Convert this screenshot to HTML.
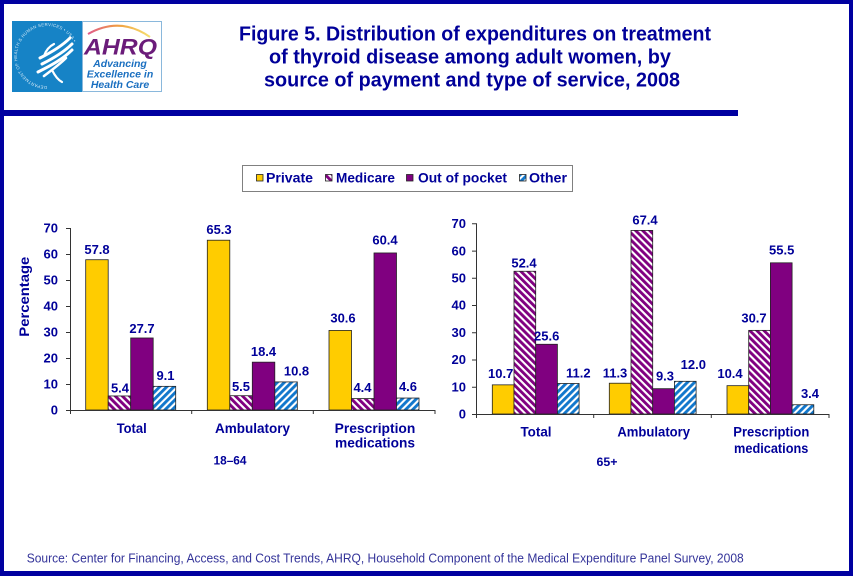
<!DOCTYPE html>
<html>
<head>
<meta charset="utf-8">
<style>
html,body{margin:0;padding:0;background:#fff;}
svg{display:block;}
text{font-family:"Liberation Sans",Arial,sans-serif;}
</style>
</head>
<body>
<svg width="853" height="576" viewBox="0 0 853 576" xmlns="http://www.w3.org/2000/svg">
<defs>
  <pattern id="pMed" patternUnits="userSpaceOnUse" width="5" height="5" patternTransform="rotate(-45)">
    <rect x="0" y="0" width="5" height="5" fill="#ffffff"/>
    <rect x="0" y="0" width="2.9" height="5" fill="#800080"/>
  </pattern>
  <pattern id="pOth" patternUnits="userSpaceOnUse" width="5" height="5" patternTransform="rotate(45)">
    <rect x="0" y="0" width="5" height="5" fill="#ffffff"/>
    <rect x="0" y="0" width="2.9" height="5" fill="#1177cc"/>
  </pattern>
  <linearGradient id="arc" x1="0" y1="0" x2="1" y2="0">
    <stop offset="0" stop-color="#e05a8a"/>
    <stop offset="0.5" stop-color="#f0a040"/>
    <stop offset="1" stop-color="#f6e070"/>
  </linearGradient>
  <path id="circ" d="M47,86 a30,30 0 1,1 0.1,0"/>
</defs>

<!-- background & frame -->
<rect x="0" y="0" width="853" height="576" fill="#ffffff"/>
<rect x="0" y="0" width="853" height="4" fill="#0000a0"/>
<rect x="0" y="0" width="4" height="576" fill="#0000a0"/>
<rect x="849" y="0" width="4" height="576" fill="#0000a0"/>
<rect x="0" y="571" width="853" height="5" fill="#0000a0"/>
<rect x="4" y="110" width="734" height="6" fill="#0000a0"/>

<!-- logo -->
<rect x="12" y="21" width="70" height="71" fill="#1683c6"/>
<text font-size="4.3" fill="#cfe6f5" letter-spacing="0.3"><textPath href="#circ">DEPARTMENT OF HEALTH &amp; HUMAN SERVICES • USA •</textPath></text>
<g fill="none" stroke="#ffffff" stroke-linecap="round">
  <path d="M70,38 C62,46 52,52 40,58" stroke-width="3"/>
  <path d="M72,44 C64,52 54,58 42,64" stroke-width="3"/>
  <path d="M72,50 C64,58 54,64 38,72" stroke-width="3"/>
  <path d="M66,58 C60,64 52,70 44,76" stroke-width="2.6"/>
  <path d="M52,70 C55,76 58,80 62,82" stroke-width="2.2"/>
  <path d="M44,56 C46,50 50,46 54,44" stroke-width="2.2"/>
</g>
<rect x="82.5" y="21.5" width="79" height="70" fill="#ffffff" stroke="#8ab8dc" stroke-width="1"/>
<path d="M88,34 Q120,16 150,37" fill="none" stroke="url(#arc)" stroke-width="2"/>
<text x="84" y="54.3" font-size="22" font-weight="bold" font-style="italic" fill="#6b1c7a" textLength="73" lengthAdjust="spacingAndGlyphs">AHRQ</text>
<g font-size="10.5" font-weight="bold" font-style="italic" fill="#1a6fc0" text-anchor="middle">
  <text x="120" y="67">Advancing</text>
  <text x="120" y="77.5">Excellence in</text>
  <text x="120" y="88">Health Care</text>
</g>

<!-- title -->
<g font-size="20" font-weight="bold" fill="#000099">
  <text x="239" y="40.5" textLength="472" lengthAdjust="spacingAndGlyphs">Figure 5. Distribution of expenditures on treatment</text>
  <text x="269" y="63.5" textLength="402" lengthAdjust="spacingAndGlyphs">of thyroid disease among adult women, by</text>
  <text x="264" y="86.5" textLength="416" lengthAdjust="spacingAndGlyphs">source of payment and type of service, 2008</text>
</g>

<!-- legend -->
<rect x="242.5" y="165.5" width="330" height="26" fill="#ffffff" stroke="#808080" stroke-width="1"/>
<rect x="256.5" y="174.5" width="6.5" height="6.5" fill="#ffcc00" stroke="#222" stroke-width="0.8"/>
<rect x="325.5" y="174.5" width="6.5" height="6.5" fill="url(#pMed)" stroke="#222" stroke-width="0.8"/>
<rect x="406.5" y="174.5" width="6.5" height="6.5" fill="#800080" stroke="#222" stroke-width="0.8"/>
<rect x="519.5" y="174.5" width="6.5" height="6.5" fill="url(#pOth)" stroke="#222" stroke-width="0.8"/>
<g font-size="13.5" font-weight="bold" fill="#000099">
  <text x="266" y="182.5" textLength="47" lengthAdjust="spacingAndGlyphs">Private</text>
  <text x="336" y="182.5" textLength="59" lengthAdjust="spacingAndGlyphs">Medicare</text>
  <text x="418" y="182.5" textLength="89" lengthAdjust="spacingAndGlyphs">Out of pocket</text>
  <text x="529" y="182.5" textLength="38" lengthAdjust="spacingAndGlyphs">Other</text>
</g>

<!-- LEFT CHART -->
<g stroke="#222" stroke-width="0.8">
  <rect x="85.7" y="259.72" width="22.5" height="150.28" fill="#ffcc00"/>
  <rect x="108.2" y="395.96" width="22.5" height="14.04" fill="url(#pMed)"/>
  <rect x="130.7" y="337.98" width="22.5" height="72.02" fill="#800080"/>
  <rect x="153.2" y="386.34" width="22.5" height="23.66" fill="url(#pOth)"/>

  <rect x="207.3" y="240.22" width="22.5" height="169.78" fill="#ffcc00"/>
  <rect x="229.8" y="395.7" width="22.5" height="14.3" fill="url(#pMed)"/>
  <rect x="252.3" y="362.16" width="22.5" height="47.84" fill="#800080"/>
  <rect x="274.8" y="381.92" width="22.5" height="28.08" fill="url(#pOth)"/>

  <rect x="329" y="330.44" width="22.5" height="79.56" fill="#ffcc00"/>
  <rect x="351.5" y="398.56" width="22.5" height="11.44" fill="url(#pMed)"/>
  <rect x="374" y="252.96" width="22.5" height="157.04" fill="#800080"/>
  <rect x="396.5" y="398.04" width="22.5" height="11.96" fill="url(#pOth)"/>
</g>
<g stroke="#333" stroke-width="1" fill="none">
  <path d="M70.5,228 V410.5 H435"/>
  <path d="M66,228.5 H70 M66,254.5 H70 M66,280.5 H70 M66,306.5 H70 M66,332.5 H70 M66,358.5 H70 M66,384.5 H70 M66,410.5 H70"/>
  <path d="M70.5,410 V414 M191.7,410 V414 M313.3,410 V414 M435,410 V414"/>
</g>
<g font-size="13" font-weight="bold" fill="#000099" text-anchor="end">
  <text x="58" y="414.7">0</text>
  <text x="58" y="388.7">10</text>
  <text x="58" y="362.7">20</text>
  <text x="58" y="336.7">30</text>
  <text x="58" y="310.7">40</text>
  <text x="58" y="284.7">50</text>
  <text x="58" y="258.7">60</text>
  <text x="58" y="232.7">70</text>
</g>
<text transform="translate(29,296.7) rotate(-90)" x="0" y="0" font-size="14" font-weight="bold" fill="#000099" text-anchor="middle" textLength="80" lengthAdjust="spacingAndGlyphs">Percentage</text>
<g font-size="13" font-weight="bold" fill="#000099" text-anchor="middle">
  <text x="97" y="254">57.8</text>
  <text x="120" y="392.5">5.4</text>
  <text x="142" y="333">27.7</text>
  <text x="165.5" y="380">9.1</text>
  <text x="219" y="234">65.3</text>
  <text x="241" y="391">5.5</text>
  <text x="263.5" y="356">18.4</text>
  <text x="296.5" y="375.5">10.8</text>
  <text x="343" y="322.5">30.6</text>
  <text x="362.5" y="392">4.4</text>
  <text x="385" y="244.7">60.4</text>
  <text x="408" y="391">4.6</text>
</g>
<g font-size="13.5" font-weight="bold" fill="#000099" text-anchor="middle">
  <text x="131.7" y="433" textLength="30" lengthAdjust="spacingAndGlyphs">Total</text>
  <text x="252.5" y="433" textLength="75" lengthAdjust="spacingAndGlyphs">Ambulatory</text>
  <text x="375" y="433" textLength="80.7" lengthAdjust="spacingAndGlyphs">Prescription</text>
  <text x="375" y="447.5" textLength="80" lengthAdjust="spacingAndGlyphs">medications</text>
  <text x="230" y="464.5" font-size="12" textLength="33" lengthAdjust="spacingAndGlyphs">18–64</text>
</g>

<!-- RIGHT CHART -->
<g stroke="#222" stroke-width="0.8">
  <rect x="492.3" y="384.85" width="21.7" height="29.15" fill="#ffcc00"/>
  <rect x="514" y="271.26" width="21.7" height="142.74" fill="url(#pMed)"/>
  <rect x="535.7" y="344.27" width="21.7" height="69.73" fill="#800080"/>
  <rect x="557.4" y="383.49" width="21.7" height="30.51" fill="url(#pOth)"/>

  <rect x="609.3" y="383.22" width="21.7" height="30.78" fill="#ffcc00"/>
  <rect x="631" y="230.4" width="21.7" height="183.6" fill="url(#pMed)"/>
  <rect x="652.7" y="388.67" width="21.7" height="25.33" fill="#800080"/>
  <rect x="674.4" y="381.31" width="21.7" height="32.69" fill="url(#pOth)"/>

  <rect x="727" y="385.67" width="21.7" height="28.33" fill="#ffcc00"/>
  <rect x="748.7" y="330.37" width="21.7" height="83.63" fill="url(#pMed)"/>
  <rect x="770.4" y="262.82" width="21.7" height="151.18" fill="#800080"/>
  <rect x="792.1" y="404.74" width="21.7" height="9.26" fill="url(#pOth)"/>
</g>
<g stroke="#333" stroke-width="1" fill="none">
  <path d="M476.5,223.3 V414.5 H829"/>
  <path d="M472,223.8 H476 M472,251.1 H476 M472,278.3 H476 M472,305.5 H476 M472,332.8 H476 M472,360 H476 M472,387.3 H476 M472,414.5 H476"/>
  <path d="M476.5,414 V418 M593.7,414 V418 M711.3,414 V418 M829,414 V418"/>
</g>
<g font-size="13" font-weight="bold" fill="#000099" text-anchor="end">
  <text x="466" y="418.7">0</text>
  <text x="466" y="391.5">10</text>
  <text x="466" y="364.2">20</text>
  <text x="466" y="337">30</text>
  <text x="466" y="309.7">40</text>
  <text x="466" y="282.5">50</text>
  <text x="466" y="255.3">60</text>
  <text x="466" y="228">70</text>
</g>
<g font-size="13" font-weight="bold" fill="#000099" text-anchor="middle">
  <text x="500.7" y="378">10.7</text>
  <text x="524" y="267.4">52.4</text>
  <text x="546.7" y="340.7">25.6</text>
  <text x="578.3" y="377.4">11.2</text>
  <text x="615" y="377.4">11.3</text>
  <text x="645" y="224.7">67.4</text>
  <text x="665" y="380.7">9.3</text>
  <text x="693.3" y="369">12.0</text>
  <text x="730" y="378">10.4</text>
  <text x="754" y="322.4">30.7</text>
  <text x="781.7" y="254.7">55.5</text>
  <text x="810" y="398">3.4</text>
</g>
<g font-size="13.5" font-weight="bold" fill="#000099" text-anchor="middle">
  <text x="536" y="436.4" textLength="31" lengthAdjust="spacingAndGlyphs">Total</text>
  <text x="653.7" y="436.4" textLength="72.7" lengthAdjust="spacingAndGlyphs">Ambulatory</text>
  <text x="771.3" y="436.4" textLength="76" lengthAdjust="spacingAndGlyphs">Prescription</text>
  <text x="771.2" y="453" textLength="74.3" lengthAdjust="spacingAndGlyphs">medications</text>
  <text x="607" y="466" font-size="12" textLength="21" lengthAdjust="spacingAndGlyphs">65+</text>
</g>

<!-- footer -->
<text x="26.7" y="562.3" font-size="13" fill="#333399" textLength="717" lengthAdjust="spacingAndGlyphs">Source: Center for Financing, Access, and Cost Trends, AHRQ, Household Component of the Medical Expenditure Panel Survey,  2008</text>
</svg>
</body>
</html>
